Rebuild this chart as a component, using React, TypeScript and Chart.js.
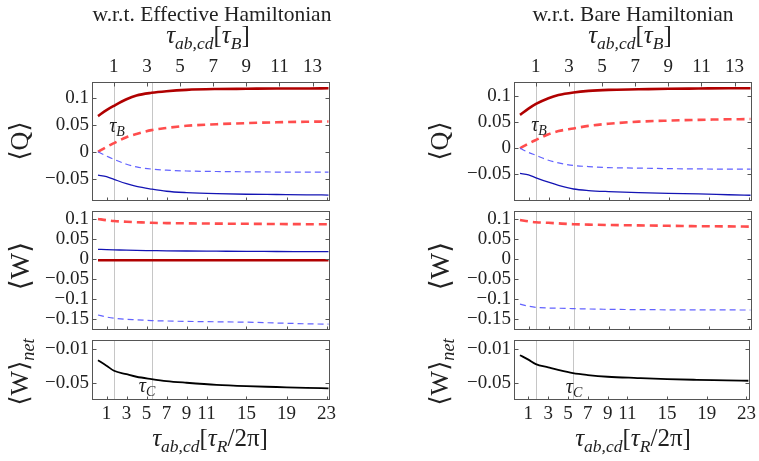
import React, { useEffect, useRef } from "react";
import { Chart, registerables } from "chart.js";

Chart.register(...registerables);

// ---------- data ----------
const tauR = [0.15, 1, 1.75, 3, 4, 5.5, 7, 9, 12, 15, 18, 21, 23.2];
const topTicks = [1, 3, 5, 7, 9, 11, 13];
const bottomTicks = [1, 3, 5, 7, 9, 11, 15, 19, 23];
const markerLines = [1.75, 5.55];

const qTicks = [0.1, 0.05, 0, -0.05];
const wTicks = [0.1, 0.05, 0, -0.05, -0.1, -0.15];
const netTicks = [-0.01, -0.05];

// w.r.t. Effective Hamiltonian
const effQHotSolid = [0.066, 0.077, 0.085, 0.097, 0.104, 0.109, 0.112, 0.1145, 0.116, 0.1165, 0.117, 0.117, 0.1175];
const effQHotDash = [0.0, 0.009, 0.016, 0.027, 0.033, 0.04, 0.044, 0.048, 0.051, 0.053, 0.0545, 0.0555, 0.056];
const effQColdDash = [0.0, -0.008, -0.014, -0.023, -0.028, -0.032, -0.034, -0.0355, -0.0365, -0.037, -0.0375, -0.0376, -0.0377];
const effQColdSolid = [-0.043, -0.046, -0.051, -0.059, -0.064, -0.069, -0.073, -0.0755, -0.0775, -0.0785, -0.079, -0.0795, -0.08];
const effWHotDash = [0.1, 0.097, 0.095, 0.093, 0.092, 0.0905, 0.0898, 0.0892, 0.0885, 0.088, 0.0875, 0.087, 0.0868];
const effWColdSolid = [0.024, 0.0235, 0.023, 0.022, 0.0215, 0.021, 0.0205, 0.02, 0.0195, 0.019, 0.0188, 0.0185, 0.0183];
const effWHotSolid = [-0.003, -0.003, -0.003, -0.003, -0.003, -0.003, -0.003, -0.003, -0.003, -0.003, -0.003, -0.003, -0.003];
const effWColdDash = [-0.14, -0.145, -0.148, -0.151, -0.152, -0.154, -0.155, -0.156, -0.157, -0.158, -0.16, -0.162, -0.163];
const effWNet = [-0.0236, -0.03, -0.036, -0.04, -0.043, -0.0457, -0.048, -0.05, -0.0525, -0.054, -0.055, -0.056, -0.0565];

// w.r.t. Bare Hamiltonian
const bareQHotSolid = [0.064, 0.076, 0.085, 0.096, 0.102, 0.107, 0.11, 0.112, 0.113, 0.114, 0.1145, 0.115, 0.115];
const bareQHotDash = [0.0, 0.009, 0.016, 0.027, 0.033, 0.038, 0.043, 0.047, 0.051, 0.053, 0.0545, 0.0555, 0.056];
const bareQColdDash = [0.0, -0.008, -0.0135, -0.023, -0.028, -0.033, -0.035, -0.037, -0.038, -0.039, -0.0395, -0.04, -0.04];
const bareQColdSolid = [-0.048, -0.051, -0.0565, -0.065, -0.071, -0.078, -0.081, -0.083, -0.085, -0.0865, -0.0875, -0.089, -0.09];
const bareWHotDash = [0.0975, 0.094, 0.092, 0.0905, 0.089, 0.087, 0.086, 0.085, 0.084, 0.083, 0.082, 0.0815, 0.081];
const bareWColdDash = [-0.113, -0.118, -0.121, -0.1225, -0.123, -0.124, -0.125, -0.1258, -0.1265, -0.127, -0.1272, -0.1274, -0.1275];
const bareWNet = [-0.0178, -0.023, -0.0282, -0.032, -0.035, -0.0388, -0.041, -0.043, -0.0445, -0.0458, -0.0466, -0.0472, -0.0477];

// ---------- styling ----------
const FONT = '"Liberation Serif", "DejaVu Serif", serif';
const W = 759;
const H = 461;
const X_MIN = -0.45;
const X_MAX = 23.35;
const TOP_MIN = -0.32;
const TOP_MAX = 14.05;

type Kind = "hotSolid" | "hotDash" | "coldDash" | "coldSolid" | "net";
const STYLES: Record<Kind, { color: string; width: number; dash: number[] }> = {
  hotSolid: { color: "#b00000", width: 2.6, dash: [] },
  hotDash: { color: "#ff4d4d", width: 2.6, dash: [8, 5] },
  coldDash: { color: "#6262ff", width: 1.2, dash: [6, 4] },
  coldSolid: { color: "#1414b4", width: 1.3, dash: [] },
  net: { color: "#000000", width: 1.8, dash: [] },
};

interface PanelCfg {
  box: [number, number, number, number];
  yMin: number;
  yMax: number;
  yTicks: number[];
  series: { data: number[]; kind: Kind }[];
  top?: boolean;
  bottom?: boolean;
}

const fmt = (v: number) => {
  if (Math.abs(v) < 1e-9) return "0";
  return v < 0 ? "\u2212" + String(Math.abs(v)) : String(v);
};

const framePlugin = {
  id: "frame",
  beforeDatasetsDraw(chart: any) {
    const { ctx, chartArea: a, scales } = chart;
    ctx.save();
    ctx.strokeStyle = "#c6c6c6";
    ctx.lineWidth = 1;
    markerLines.forEach((v) => {
      const px = Math.round(scales.x.getPixelForValue(v)) + 0.5;
      ctx.beginPath();
      ctx.moveTo(px, a.top);
      ctx.lineTo(px, a.bottom);
      ctx.stroke();
    });
    ctx.restore();
  },
  afterDraw(chart: any) {
    const { ctx, chartArea: a, scales } = chart;
    const cfg: PanelCfg = chart.options.plugins.frame.cfg;
    ctx.save();
    ctx.strokeStyle = "#555555";
    ctx.lineWidth = 1;
    const l = Math.round(a.left) + 0.5;
    const t = Math.round(a.top) + 0.5;
    const r = Math.round(a.right) - 0.5;
    const b = Math.round(a.bottom) - 0.5;
    ctx.strokeRect(l, t, r - l, b - t);
    ctx.beginPath();
    cfg.yTicks.forEach((v) => {
      const py = Math.round(scales.y.getPixelForValue(v)) + 0.5;
      ctx.moveTo(l, py);
      ctx.lineTo(l + 4, py);
      ctx.moveTo(r, py);
      ctx.lineTo(r - 4, py);
    });
    bottomTicks.forEach((v) => {
      const px = Math.round(scales.x.getPixelForValue(v)) + 0.5;
      ctx.moveTo(px, b);
      ctx.lineTo(px, b - 3);
    });
    if (cfg.top && scales.x2) {
      topTicks.forEach((v) => {
        const px = Math.round(scales.x2.getPixelForValue(v)) + 0.5;
        ctx.moveTo(px, t);
        ctx.lineTo(px, t + 4);
      });
    }
    ctx.stroke();
    ctx.restore();
  },
};

function buildConfig(cfg: PanelCfg): any {
  const [L, T, R, B] = cfg.box;
  const yW = 80;
  const axH = 30;
  const tickFont = { family: FONT, size: 19 };
  const scales: any = {
    x: {
      type: "linear",
      position: "bottom",
      min: X_MIN,
      max: X_MAX,
      display: !!cfg.bottom,
      grid: { display: false, drawTicks: false },
      border: { display: false },
      afterBuildTicks: (s: any) => {
        s.ticks = bottomTicks.map((v) => ({ value: v }));
      },
      afterFit: (s: any) => {
        s.height = cfg.bottom ? axH : 0;
      },
      ticks: {
        autoSkip: false,
        maxRotation: 0,
        padding: 3,
        font: tickFont,
        color: "#222",
        callback: (v: number) => String(v),
      },
    },
    y: {
      type: "linear",
      position: "left",
      min: cfg.yMin,
      max: cfg.yMax,
      grid: { display: false, drawTicks: false },
      border: { display: false },
      afterBuildTicks: (s: any) => {
        s.ticks = cfg.yTicks.map((v) => ({ value: v }));
      },
      afterFit: (s: any) => {
        s.width = yW;
      },
      ticks: {
        autoSkip: false,
        padding: 3,
        font: tickFont,
        color: "#222",
        callback: (v: number) => fmt(v),
      },
    },
  };
  if (cfg.top) {
    scales.x2 = {
      type: "linear",
      position: "top",
      min: TOP_MIN,
      max: TOP_MAX,
      grid: { display: false, drawTicks: false },
      border: { display: false },
      afterBuildTicks: (s: any) => {
        s.ticks = topTicks.map((v) => ({ value: v }));
      },
      afterFit: (s: any) => {
        s.height = axH;
      },
      ticks: {
        autoSkip: false,
        maxRotation: 0,
        padding: 4,
        font: tickFont,
        color: "#222",
        callback: (v: number) => String(v),
      },
    };
  }
  return {
    type: "line",
    data: {
      datasets: cfg.series.map((s) => {
        const st = STYLES[s.kind];
        return {
          data: tauR.map((x, i) => ({ x, y: s.data[i] })),
          borderColor: st.color,
          borderWidth: st.width,
          borderDash: st.dash,
          pointRadius: 0,
          fill: false,
          cubicInterpolationMode: "monotone",
          xAxisID: "x",
          yAxisID: "y",
        };
      }),
    },
    options: {
      responsive: false,
      animation: false,
      devicePixelRatio: 1,
      events: [],
      layout: {
        padding: {
          left: L - yW,
          right: W - R,
          top: T - (cfg.top ? axH : 0),
          bottom: H - B - (cfg.bottom ? axH : 0),
        },
      },
      plugins: {
        legend: { display: false },
        tooltip: { enabled: false },
        frame: { cfg },
      },
      scales,
    },
    plugins: [framePlugin],
  };
}

const LEFT_X: [number, number] = [92, 330];
const RIGHT_X: [number, number] = [514, 752];

const panels: PanelCfg[] = [
  {
    box: [LEFT_X[0], 82, LEFT_X[1], 201],
    yMin: -0.091,
    yMax: 0.129,
    yTicks: qTicks,
    top: true,
    series: [
      { data: effQColdDash, kind: "coldDash" },
      { data: effQColdSolid, kind: "coldSolid" },
      { data: effQHotDash, kind: "hotDash" },
      { data: effQHotSolid, kind: "hotSolid" },
    ],
  },
  {
    box: [LEFT_X[0], 211, LEFT_X[1], 330],
    yMin: -0.1775,
    yMax: 0.12,
    yTicks: wTicks,
    series: [
      { data: effWColdDash, kind: "coldDash" },
      { data: effWColdSolid, kind: "coldSolid" },
      { data: effWHotDash, kind: "hotDash" },
      { data: effWHotSolid, kind: "hotSolid" },
    ],
  },
  {
    box: [LEFT_X[0], 340, LEFT_X[1], 400],
    yMin: -0.0702,
    yMax: 0.0,
    yTicks: netTicks,
    bottom: true,
    series: [{ data: effWNet, kind: "net" }],
  },
  {
    box: [RIGHT_X[0], 82, RIGHT_X[1], 201],
    yMin: -0.101,
    yMax: 0.127,
    yTicks: qTicks,
    top: true,
    series: [
      { data: bareQColdDash, kind: "coldDash" },
      { data: bareQColdSolid, kind: "coldSolid" },
      { data: bareQHotDash, kind: "hotDash" },
      { data: bareQHotSolid, kind: "hotSolid" },
    ],
  },
  {
    box: [RIGHT_X[0], 211, RIGHT_X[1], 330],
    yMin: -0.1775,
    yMax: 0.12,
    yTicks: wTicks,
    series: [
      { data: bareWColdDash, kind: "coldDash" },
      { data: bareWHotDash, kind: "hotDash" },
    ],
  },
  {
    box: [RIGHT_X[0], 340, RIGHT_X[1], 400],
    yMin: -0.0702,
    yMax: 0.0,
    yTicks: netTicks,
    bottom: true,
    series: [{ data: bareWNet, kind: "net" }],
  },
];

function Panel({ cfg }: { cfg: PanelCfg }) {
  const ref = useRef<HTMLCanvasElement | null>(null);
  useEffect(() => {
    if (!ref.current) return;
    const chart = new Chart(ref.current, buildConfig(cfg));
    return () => chart.destroy();
  }, [cfg]);
  return (
    <canvas
      ref={ref}
      width={W}
      height={H}
      style={{ position: "absolute", left: 0, top: 0, width: W, height: H }}
    />
  );
}

function Txt({ x, y, size, rotate, italic, children }: any) {
  return (
    <div
      style={{
        position: "absolute",
        left: x,
        top: y,
        transform: `translate(-50%, -50%)${rotate ? " rotate(-90deg)" : ""}`,
        fontFamily: FONT,
        fontSize: size,
        fontStyle: italic ? "italic" : "normal",
        whiteSpace: "nowrap",
        lineHeight: 1,
        color: "#222",
        zIndex: 2,
      }}
    >
      {children}
    </div>
  );
}

const Sub = ({ children }: any) => (
  <span style={{ fontSize: "0.7em", verticalAlign: "-0.32em", fontStyle: "italic" }}>{children}</span>
);
const I = ({ children }: any) => <span style={{ fontStyle: "italic" }}>{children}</span>;

const TopTitle = () => (
  <span>
    <I>τ</I>
    <Sub>ab,cd</Sub>[<I>τ</I>
    <Sub>B</Sub>]
  </span>
);
const BottomTitle = () => (
  <span>
    <I>τ</I>
    <Sub>ab,cd</Sub>[<I>τ</I>
    <Sub>R</Sub>/2π]
  </span>
);

export default function App() {
  return (
    <div style={{ position: "fixed", left: 0, top: 0, width: W, height: H, background: "#fff", overflow: "hidden" }}>
      {panels.map((p, i) => (
        <Panel key={i} cfg={p} />
      ))}
      <Txt x={212} y={15} size={21.5}>w.r.t. Effective Hamiltonian</Txt>
      <Txt x={633} y={15} size={21.5}>w.r.t. Bare Hamiltonian</Txt>
      <Txt x={208} y={37} size={25}><TopTitle /></Txt>
      <Txt x={630} y={37} size={25}><TopTitle /></Txt>
      <Txt x={210} y={440} size={25}><BottomTitle /></Txt>
      <Txt x={633} y={440} size={25}><BottomTitle /></Txt>

      <Txt x={20} y={141} size={26} rotate>⟨Q⟩</Txt>
      <Txt x={20} y={266} size={28} rotate>⟨W⟩</Txt>
      <Txt x={22} y={372} size={26} rotate>⟨W⟩<Sub>net</Sub></Txt>
      <Txt x={440} y={141} size={26} rotate>⟨Q⟩</Txt>
      <Txt x={440} y={266} size={28} rotate>⟨W⟩</Txt>
      <Txt x={442} y={372} size={26} rotate>⟨W⟩<Sub>net</Sub></Txt>

      <Txt x={117} y={127} size={20}><I>τ</I><Sub>B</Sub></Txt>
      <Txt x={539} y={126} size={20}><I>τ</I><Sub>B</Sub></Txt>
      <Txt x={147} y={387} size={20}><I>τ</I><Sub>C</Sub></Txt>
      <Txt x={574} y={388} size={20}><I>τ</I><Sub>C</Sub></Txt>
    </div>
  );
}
